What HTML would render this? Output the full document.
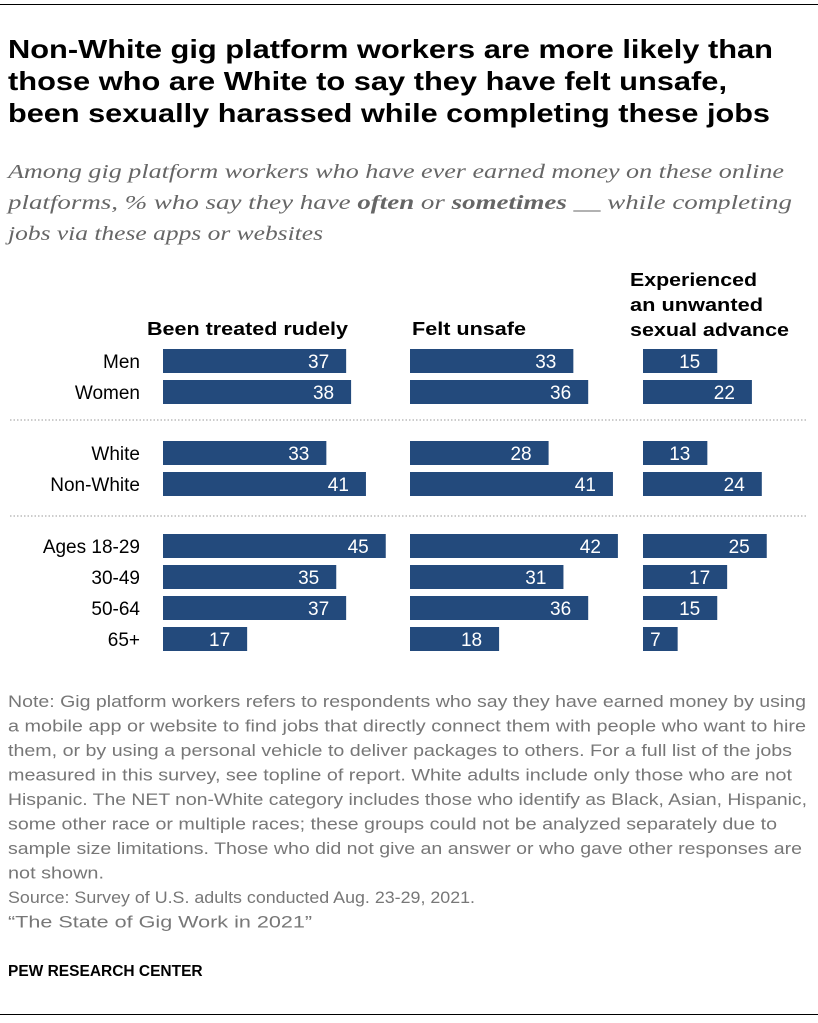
<!DOCTYPE html>
<html><head><meta charset="utf-8"><style>
body{margin:0;background:#fff;width:818px;height:1023px;position:relative;font-family:"Liberation Sans",sans-serif;overflow:hidden}
.abs{position:absolute}
</style></head><body>
<div class="abs" style="left:0;top:4px;width:818px;height:1px;background:#000"></div>
<svg class="abs" style="left:0;top:0" width="818" height="1023">
<g font-family="Liberation Sans" font-weight="bold" font-size="26" fill="#000">
<text x="8" y="58" textLength="765" lengthAdjust="spacingAndGlyphs">Non-White gig platform workers are more likely than</text>
<text x="8" y="90" textLength="719" lengthAdjust="spacingAndGlyphs">those who are White to say they have felt unsafe,</text>
<text x="8" y="122" textLength="762" lengthAdjust="spacingAndGlyphs">been sexually harassed while completing these jobs</text>
</g>
<g font-family="Liberation Serif" font-style="italic" font-size="20" fill="#666">
<text x="8" y="178" textLength="776" lengthAdjust="spacingAndGlyphs">Among gig platform workers who have ever earned money on these online</text>
<text x="8" y="209" textLength="784" lengthAdjust="spacingAndGlyphs">platforms, % who say they have <tspan font-weight="bold">often</tspan> or <tspan font-weight="bold">sometimes</tspan> __ while completing</text>
<text x="8" y="240" textLength="315" lengthAdjust="spacingAndGlyphs">jobs via these apps or websites</text>
</g>
<g font-family="Liberation Sans" font-weight="bold" font-size="18" fill="#000">
<text x="147" y="335" textLength="201" lengthAdjust="spacingAndGlyphs">Been treated rudely</text>
<text x="412" y="335" textLength="114" lengthAdjust="spacingAndGlyphs">Felt unsafe</text>
<text x="630" y="286" textLength="127" lengthAdjust="spacingAndGlyphs">Experienced</text>
<text x="630" y="311" textLength="133" lengthAdjust="spacingAndGlyphs">an unwanted</text>
<text x="630" y="336" textLength="159" lengthAdjust="spacingAndGlyphs">sexual advance</text>
</g>
<g font-family="Liberation Sans" font-size="17" fill="#777">
<text x="8" y="707" textLength="798" lengthAdjust="spacingAndGlyphs">Note: Gig platform workers refers to respondents who say they have earned money by using</text>
<text x="8" y="731.5" textLength="798" lengthAdjust="spacingAndGlyphs">a mobile app or website to find jobs that directly connect them with people who want to hire</text>
<text x="8" y="756" textLength="784" lengthAdjust="spacingAndGlyphs">them, or by using a personal vehicle to deliver packages to others. For a full list of the jobs</text>
<text x="8" y="780.5" textLength="784" lengthAdjust="spacingAndGlyphs">measured in this survey, see topline of report. White adults include only those who are not</text>
<text x="8" y="805" textLength="799" lengthAdjust="spacingAndGlyphs">Hispanic. The NET non-White category includes those who identify as Black, Asian, Hispanic,</text>
<text x="8" y="829.5" textLength="769" lengthAdjust="spacingAndGlyphs">some other race or multiple races; these groups could not be analyzed separately due to</text>
<text x="8" y="854" textLength="794" lengthAdjust="spacingAndGlyphs">sample size limitations. Those who did not give an answer or who gave other responses are</text>
<text x="8" y="878.5" textLength="96" lengthAdjust="spacingAndGlyphs">not shown.</text>
<text x="8" y="903" textLength="467" lengthAdjust="spacingAndGlyphs">Source: Survey of U.S. adults conducted Aug. 23-29, 2021.</text>
<text x="8" y="927.5" textLength="304" lengthAdjust="spacingAndGlyphs">“The State of Gig Work in 2021”</text>
</g>
<text x="8" y="976" font-family="Liberation Sans" font-weight="bold" font-size="15.5" fill="#000">PEW RESEARCH CENTER</text>
</svg>
<svg class="abs" style="left:0;top:0" width="818" height="1023" id="chart"></svg>
<div class="abs" style="left:0;top:1014px;width:818px;height:1px;background:#000"></div>
<script>
const categories=["Men","Women","White","Non-White","Ages 18-29","30-49","50-64","65+"];
const rudely=[37,38,33,41,45,35,37,17];
const unsafe=[33,36,28,41,42,31,36,18];
const sexual=[15,22,13,24,25,17,15,7];
const rowY=[349,380,441,472,534,565,596,627];
const svg=document.getElementById('chart');
const NS='http://www.w3.org/2000/svg';
const scale=v=>v*4.95;
const panels=[[163,rudely,'rudely'],[410,unsafe,'unsafe'],[643,sexual,'sexual']];
function mk(t,a){const e=document.createElementNS(NS,t);for(const k in a)e.setAttribute(k,a[k]);svg.appendChild(e);return e;}
categories.forEach((c,i)=>{
  const t=mk('text',{x:140,y:rowY[i]+19,'text-anchor':'end','font-size':19,fill:'#000','font-family':'Liberation Sans'});
  t.textContent=c;
  
  
  panels.forEach(p=>{
    const w=scale(p[1][i]);
    const r=mk('rect',{x:p[0],y:rowY[i],width:w,height:24,fill:'#234a7c'});
    
    
    const v=mk('text',{x:p[0]+w-17,y:rowY[i]+19,'text-anchor':'end','font-size':19,fill:'#fff','font-family':'Liberation Sans'});
    v.textContent=p[1][i];
    
    
  });
});
[420,516].forEach(y=>{
  const l=mk('line',{x1:10,x2:806,y1:y,y2:y,stroke:'#999','stroke-width':1,'stroke-dasharray':'1.5,2'});
  
  
});
</script>
</body></html>
